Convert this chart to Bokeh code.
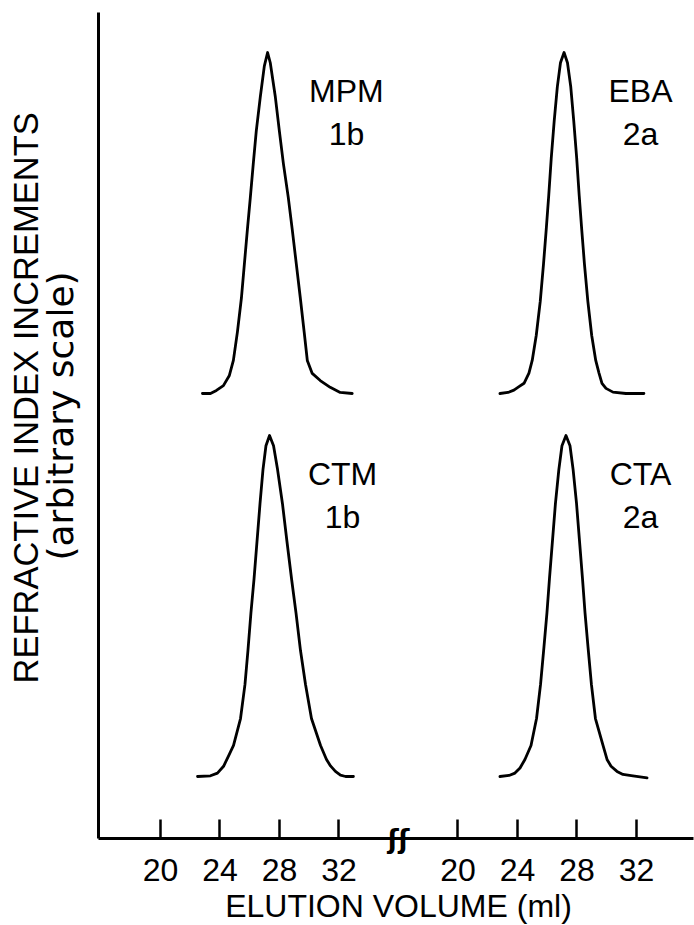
import math
from bokeh.plotting import figure
from bokeh.models import Range1d, FixedTicker, Label
from bokeh.embed import file_html
from bokeh.resources import INLINE

# ---------------- data ----------------
# elution volume (ml) and detector response (% of peak height)
mpm_x = [22.82, 23.36, 23.76, 24.23, 24.63, 24.90, 25.17, 25.44, 25.64, 25.84, 26.04, 26.24, 26.44, 26.71, 26.98, 27.20,
         27.38, 27.72, 27.99, 28.26, 28.59, 28.86, 29.13, 29.40, 29.66, 29.87, 30.20, 30.74, 31.41, 32.08, 32.89]
mpm_y = [0, 0, 0.9, 2.3, 5.3, 9.7, 18, 28, 38, 48, 57.5, 67.5, 77, 87, 96, 100,
         97, 87, 77, 67.5, 57.5, 48, 38, 28, 18, 9.7, 5.9, 3.8, 1.8, 0.3, 0]

eba_x = [22.82, 23.36, 23.76, 24.10, 24.44, 24.77, 24.99, 25.26, 25.53, 25.75, 25.93, 26.10, 26.27, 26.47, 26.68, 26.89, 27.13,
         27.36, 27.58, 27.78, 27.98, 28.15, 28.32, 28.50, 28.73, 28.99, 29.26, 29.48, 29.68, 29.95, 30.42, 31.29, 32.50]
eba_y = [0, 0.3, 1.0, 2.0, 3.0, 6.0, 9.7, 17, 27, 38, 48, 58, 69, 80, 90, 97, 100,
         97, 90, 80, 69, 58, 48, 38, 27, 17, 9.7, 6.0, 3.0, 1.5, 0.4, 0, 0]

ctm_x = [22.49, 23.36, 23.83, 24.24, 24.57, 24.91, 25.38, 25.68, 25.88, 26.08, 26.29, 26.49, 26.69, 26.89, 27.09, 27.33,
         27.60, 27.87, 28.20, 28.50, 28.81, 29.11, 29.41, 29.75, 30.15, 30.76, 31.16, 31.43, 31.76, 32.10, 32.44, 32.97]
ctm_y = [0, 0.2, 1.0, 3.0, 6.0, 9.1, 17, 27, 37, 48, 58, 69, 80, 90, 97, 100,
         97, 90, 80, 69, 58, 48, 37, 27, 17, 9.1, 5.0, 3.1, 1.5, 0.4, 0, 0]

cta_x = [22.82, 23.43, 23.83, 24.17, 24.50, 24.91, 25.28, 25.55, 25.78, 25.98, 26.15, 26.35, 26.55, 26.78, 26.99, 27.26,
         27.53, 27.74, 27.97, 28.17, 28.37, 28.54, 28.74, 28.97, 29.24, 29.75, 30.02, 30.29, 30.69, 31.09, 31.76, 32.71]
cta_y = [0, 0.3, 1.0, 2.5, 5.0, 9.1, 17, 27, 38, 48, 58, 69, 80, 90, 97, 100,
         97, 90, 80, 69, 58, 48, 38, 27, 17, 9.1, 5.0, 3.0, 1.5, 0.6, 0.2, -0.4]

names = ["MPM", "EBA", "CTM", "CTA"]
codes = ["1b", "2a", "1b", "2a"]
tick_values = [20, 24, 28, 32]
tick_labels = ["20", "24", "28", "32"]

# ---------------- layout ----------------
GROUP_SHIFT = 20.0      # right-hand group drawn 20 ml further along the axis
BREAK_AT = 36.0         # axis break between the two groups
X_AXIS_START = 15.83
X_AXIS_END = 55.83
Y_AXIS_TOP = 826.0
UPPER_BASE = 445.0      # baseline offsets of the two rows (axis units)
LOWER_BASE = 62.0
SCALE = 3.41            # axis units per % of peak height

FONT = "Liberation Sans"
BLACK = "#000000"
W, H = 694, 925

p = figure(width=W, height=H, output_backend="svg", toolbar_location=None,
           x_range=Range1d(9.244, 55.90), y_range=Range1d(-87, 838),
           min_border=0, min_border_left=0, min_border_right=0, min_border_top=0, min_border_bottom=0)
p.outline_line_color = None
p.xgrid.visible = False
p.ygrid.visible = False
p.background_fill_color = "white"
p.border_fill_color = "white"

panels = [
    (mpm_x, mpm_y, 0.0, UPPER_BASE),
    (eba_x, eba_y, GROUP_SHIFT, UPPER_BASE),
    (ctm_x, ctm_y, 0.0, LOWER_BASE),
    (cta_x, cta_y, GROUP_SHIFT, LOWER_BASE),
]
for xs, ys, shift, base in panels:
    p.line([x + shift for x in xs], [base + y * SCALE for y in ys],
           line_color=BLACK, line_width=2.8, line_join="round", line_cap="round")

# x axis: two groups of ticks, inward ticks, drawn at y = 0
all_ticks = tick_values + [t + GROUP_SHIFT for t in tick_values]
overrides = {}
for t, lab in zip(tick_values, tick_labels):
    overrides[t] = lab
    overrides[t + GROUP_SHIFT] = lab
xa = p.xaxis[0]
xa.fixed_location = 0
xa.bounds = (X_AXIS_START, X_AXIS_END)
xa.ticker = FixedTicker(ticks=all_ticks, minor_ticks=[])
xa.major_label_overrides = overrides
xa.major_tick_in = 19
xa.major_tick_out = 0
xa.minor_tick_line_color = None
xa.major_tick_line_width = 2.5
xa.axis_line_width = 3
xa.axis_line_color = BLACK
xa.major_tick_line_color = BLACK
xa.major_label_text_font = FONT
xa.major_label_text_font_size = "32px"
xa.major_label_text_color = BLACK
xa.major_label_standoff = 20

ya = p.yaxis[0]
ya.fixed_location = X_AXIS_START
ya.bounds = (0, Y_AXIS_TOP)
ya.ticker = FixedTicker(ticks=[], minor_ticks=[])
ya.major_tick_line_color = None
ya.minor_tick_line_color = None
ya.major_label_text_font_size = "0px"
ya.axis_line_width = 3
ya.axis_line_color = BLACK

# axis break mark
p.add_layout(Label(x=BREAK_AT, y=0, text="ʃʃ", text_font="DejaVu Sans",
                   text_font_size="26px", text_align="center", text_baseline="middle",
                   text_color=BLACK, text_font_style="bold"))

# axis titles
p.add_layout(Label(x=BREAK_AT, y=-67, text="ELUTION VOLUME (ml)",
                   text_font=FONT, text_font_size="32px", text_align="center",
                   text_baseline="middle", text_color=BLACK))
p.add_layout(Label(x=25, y=H - 683, x_units="screen", y_units="screen", text="REFRACTIVE INDEX INCREMENTS",
                   angle=math.pi / 2, text_font=FONT, text_font_size="34.5px",
                   text_align="left", text_baseline="middle", text_color=BLACK))
p.add_layout(Label(x=60, y=H - 560, x_units="screen", y_units="screen", text="(arbitrary scale)",
                   angle=math.pi / 2, text_font="DejaVu Sans", text_font_size="36px",
                   text_align="left", text_baseline="middle", text_color=BLACK))

# panel labels (compound name and class), right of each peak
label_x = [32.50, 52.27, 32.24, 52.27]
label_base = [UPPER_BASE, UPPER_BASE, LOWER_BASE, LOWER_BASE]
for lx, base, nm, cd in zip(label_x, label_base, names, codes):
    top = base + 100 * SCALE
    p.add_layout(Label(x=lx, y=top - 38, text=nm, text_font=FONT,
                       text_font_size="32px", text_align="center", text_baseline="middle",
                       text_color=BLACK))
    p.add_layout(Label(x=lx, y=top - 81, text=cd, text_font=FONT,
                       text_font_size="32px", text_align="center", text_baseline="middle",
                       text_color=BLACK))

open("out.html", "w").write(file_html(p, INLINE))
